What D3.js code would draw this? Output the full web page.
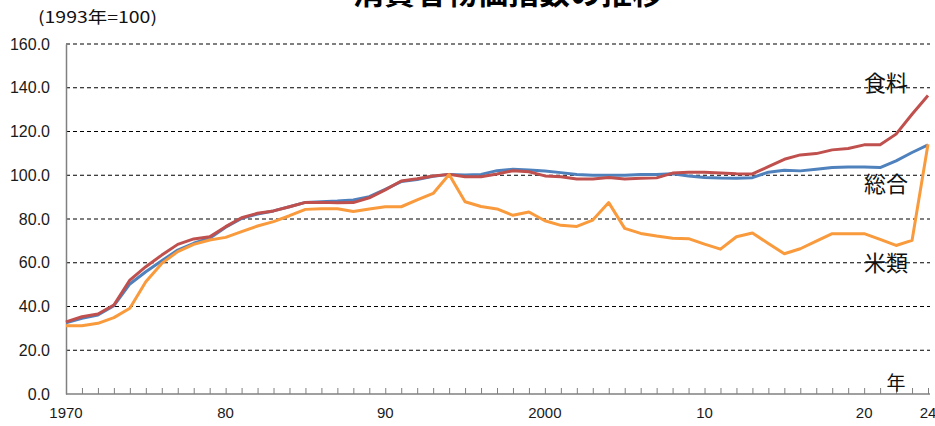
<!DOCTYPE html>
<html>
<head>
<meta charset="utf-8">
<script src="https://cdn.jsdelivr.net/npm/d3@7"></script>
<style>
  body { margin: 0; background: #fff; }
  #chart { width: 935px; height: 426px; }
</style>
</head>
<body>
<div id="chart"></div>
<script>
// years 1970 - 2024
const years = d3.range(1970, 2025);

// 総合
const sogo = [
  32.6, 34.6, 36.1, 40.4, 50.3, 55.9, 60.9, 65.8, 68.9, 71.2,
  76.2, 80.3, 82.3, 83.7, 85.6, 87.6, 87.9, 88.2, 88.7, 90.2,
  93.6, 97.1, 98.1, 99.5, 100.4, 100.1, 100.4, 102.1, 102.7, 102.4,
  101.9, 101.2, 100.3, 100.0, 100.0, 100.0, 100.3, 100.3, 100.7, 99.7,
  99.0, 98.7, 98.6, 98.9, 101.4, 102.3, 102.0, 102.7, 103.5, 103.8,
  103.8, 103.5, 106.6, 110.4, 113.9
];

// 食料
const shokuryo = [
  33.0, 35.3, 36.6, 40.7, 52.1, 58.2, 63.5, 68.4, 70.9, 71.9,
  76.5, 80.6, 82.6, 83.7, 85.6, 87.6, 87.6, 87.4, 87.5, 89.7,
  93.3, 97.4, 98.4, 99.7, 100.4, 99.3, 99.3, 100.6, 102.1, 101.6,
  99.7, 99.3, 98.3, 98.3, 99.0, 98.3, 98.6, 98.8, 101.0, 101.4,
  101.4, 101.0, 100.7, 100.6, 103.9, 107.3, 109.3, 109.9, 111.6, 112.2,
  113.9, 113.9, 118.8, 127.9, 136.5
];

// 米類
const kome = [
  31.2, 31.2, 32.3, 34.9, 39.2, 51.3, 59.7, 65.1, 68.4, 70.4,
  71.6, 74.2, 76.8, 78.8, 81.5, 84.4, 84.7, 84.7, 83.4, 84.6,
  85.6, 85.6, 88.7, 91.7, 100.3, 87.9, 85.7, 84.6, 81.7, 83.2,
  79.2, 77.1, 76.6, 79.5, 87.5, 75.7, 73.4, 72.2, 71.2, 71.0,
  68.5, 66.2, 71.9, 73.6, 68.8, 64.1, 66.4, 69.9, 73.3, 73.3,
  73.3, 70.7, 67.9, 70.2, 114.2
];

const yTicks = [0, 20, 40, 60, 80, 100, 120, 140, 160];
const xTickLabels = [[1970, "1970"], [1980, "80"], [1990, "90"], [2000, "2000"], [2010, "10"], [2020, "20"], [2024, "24"]];

const seriesList = [
  { name: "総合", values: sogo, color: "#4F81BD", labelValue: 96 },
  { name: "食料", values: shokuryo, color: "#C0504D", labelValue: 142 },
  { name: "米類", values: kome, color: "#F99A3C", labelValue: 60 }
];

const width = 935, height = 426;
const margin = { left: 66, right: 7, top: 44, bottom: 32 };

const svg = d3.select("#chart")
  .append("svg")
  .attr("width", width)
  .attr("height", height);

const x = d3.scaleLinear()
  .domain([1970, 2024])
  .range([margin.left, width - margin.right]);

const y = d3.scaleLinear()
  .domain([0, 160])
  .range([height - margin.bottom, margin.top]);

// title (cut off at the top in the original)
svg.append("text")
  .attr("x", 508)
  .attr("y", 4)
  .attr("text-anchor", "middle")
  .attr("font-family", "Noto Sans CJK JP")
  .attr("font-weight", "bold")
  .attr("font-size", 31)
  .text("消費者物価指数の推移");

svg.append("text")
  .attr("x", 38)
  .attr("y", 23)
  .attr("font-family", "Noto Sans CJK JP")
  .attr("font-size", 16)
  .attr("textLength", 119)
  .attr("lengthAdjust", "spacingAndGlyphs")
  .attr("fill", "#111")
  .text("(1993年=100)");

// dashed grid lines
svg.append("g")
  .selectAll("line")
  .data(yTicks.filter(d => d > 0))
  .enter().append("line")
  .attr("x1", margin.left)
  .attr("x2", width - 5)
  .attr("y1", d => y(d))
  .attr("y2", d => y(d))
  .attr("stroke", "#000")
  .attr("stroke-width", 1)
  .attr("stroke-dasharray", "4,3");

// y axis labels
const yAxis = d3.axisLeft(y)
  .tickValues(yTicks)
  .tickSize(0)
  .tickPadding(16)
  .tickFormat(d3.format(".1f"));

const gy = svg.append("g")
  .attr("transform", `translate(${margin.left},0)`)
  .call(yAxis);
gy.select(".domain").attr("stroke", "#808080").attr("stroke-width", 1.5);
gy.selectAll("text")
  .attr("font-family", "Liberation Sans")
  .attr("font-size", 16)
  .attr("fill", "#1a1a1a");

// x axis, yearly ticks pointing inside
const xAxis = d3.axisBottom(x)
  .tickValues(years)
  .tickSize(-6)
  .tickSizeOuter(0)
  .tickFormat("");

const gx = svg.append("g")
  .attr("transform", `translate(0,${y(0)})`)
  .call(xAxis);
gx.select(".domain").attr("stroke", "#808080").attr("stroke-width", 1.5)
  .attr("d", `M${margin.left},0H${width - 5}`);
gx.selectAll(".tick line").attr("stroke", "#808080");

svg.append("g")
  .selectAll("text")
  .data(xTickLabels)
  .enter().append("text")
  .attr("x", d => x(d[0]))
  .attr("y", y(0) + 24)
  .attr("text-anchor", "middle")
  .attr("font-family", "Liberation Sans")
  .attr("font-size", 15)
  .attr("fill", "#1a1a1a")
  .text(d => d[1]);

svg.append("text")
  .attr("x", 896)
  .attr("y", 390)
  .attr("text-anchor", "middle")
  .attr("font-family", "Noto Sans CJK JP")
  .attr("font-size", 19)
  .attr("fill", "#111")
  .text("年");

// lines
const line = d3.line()
  .x((d, i) => x(years[i]))
  .y(d => y(d));

svg.append("g")
  .selectAll("path")
  .data(seriesList)
  .enter().append("path")
  .attr("fill", "none")
  .attr("stroke", d => d.color)
  .attr("stroke-width", 3)
  .attr("stroke-linejoin", "round")
  .attr("d", d => line(d.values));

// series labels
svg.append("g")
  .selectAll("text")
  .data(seriesList)
  .enter().append("text")
  .attr("x", 886)
  .attr("y", d => y(d.labelValue))
  .attr("dy", "0.36em")
  .attr("text-anchor", "middle")
  .attr("font-family", "Noto Sans CJK JP")
  .attr("font-size", 22)
  .attr("fill", "#111")
  .text(d => d.name);
</script>
</body>
</html>
